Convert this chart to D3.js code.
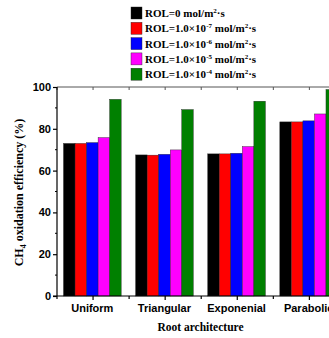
<!DOCTYPE html>
<html>
<head>
<meta charset="utf-8">
<script src="https://cdn.jsdelivr.net/npm/d3@7/dist/d3.min.js"></script>
<style>
  body { margin: 0; background: #fff; }
  svg { display: block; }
</style>
</head>
<body>
<div id="chart"></div>
<script>
var categories = ["Uniform", "Triangular", "Exponenial", "Parabolic"];
var series = ["s0", "s7", "s6", "s5", "s4"];
var seriesColors = ["#000000", "#ff0000", "#0000ff", "#ff00ff", "#008000"];
var seriesExp = [null, "-7", "-6", "-5", "-4"];
var values = [
  [73.0, 73.0, 73.4, 75.8, 94.1],
  [67.5, 67.4, 67.8, 69.9, 89.2],
  [68.0, 68.0, 68.3, 71.5, 93.2],
  [83.3, 83.3, 83.8, 87.1, 98.8]
];
var yTicks = [0, 20, 40, 60, 80, 100];

var width = 329, height = 338;
var margin = {left: 57, top: 87};
var plotW = 287, plotH = 209;

var svg = d3.select("#chart").append("svg")
  .attr("width", width)
  .attr("height", height);

var x = d3.scaleBand()
  .domain(categories)
  .range([margin.left, margin.left + plotW])
  .paddingInner(0.2)
  .paddingOuter(0.09);

var x1 = d3.scaleBand()
  .domain(series)
  .range([0, x.bandwidth()]);

var y = d3.scaleLinear()
  .domain([0, 100])
  .range([margin.top + plotH, margin.top]);

var bottom = margin.top + plotH;

// bars
var groups = svg.append("g").selectAll("g")
  .data(values)
  .enter().append("g")
  .attr("transform", function(d, i) { return "translate(" + x(categories[i]) + ",0)"; });

groups.selectAll("rect")
  .data(function(d) { return d; })
  .enter().append("rect")
  .attr("x", function(d, j) { return x1(series[j]); })
  .attr("y", function(d) { return y(d); })
  .attr("width", x1.bandwidth())
  .attr("height", function(d) { return bottom - y(d); })
  .style("fill", function(d, j) { return seriesColors[j]; })
  .style("stroke", "#222")
  .style("stroke-width", 0.4);

// frame
svg.append("line")
  .attr("x1", margin.left).attr("x2", margin.left + plotW)
  .attr("y1", margin.top).attr("y2", margin.top)
  .style("stroke", "#555").style("stroke-width", 1);

// tick positions for x (centers and boundaries)
var step = x.step();
var xTickPos = [];
for (var k = 0; k <= 8; k++) xTickPos.push(margin.left + k * step / 2);

svg.append("g").selectAll("line")
  .data(xTickPos)
  .enter().append("line")
  .attr("x1", function(d) { return d; }).attr("x2", function(d) { return d; })
  .attr("y1", margin.top).attr("y2", margin.top + 3)
  .style("stroke", "#555").style("stroke-width", 1);

// y axis
var yAxis = d3.axisLeft(y)
  .tickValues(yTicks)
  .tickSize(4)
  .tickFormat(d3.format("d"));

var gy = svg.append("g")
  .attr("transform", "translate(" + margin.left + ",0)")
  .call(yAxis);
gy.select(".domain").attr("d", "M0," + margin.top + "V" + bottom).style("stroke", "#000").style("stroke-width", 1.2);
gy.selectAll(".tick line").style("stroke-width", 1.2);
gy.selectAll("text")
  .style("font-family", "'Liberation Sans', Arial, sans-serif")
  .style("font-size", "11px")
  .style("font-weight", "bold")
  .attr("x", -6);

// minor y ticks
gy.append("g").selectAll("line")
  .data([10, 30, 50, 70, 90])
  .enter().append("line")
  .attr("x1", 0).attr("x2", -2)
  .attr("y1", function(d) { return y(d); }).attr("y2", function(d) { return y(d); })
  .style("stroke", "#000").style("stroke-width", 1);

// x axis
svg.append("line")
  .attr("x1", margin.left - 4).attr("x2", margin.left + plotW)
  .attr("y1", bottom).attr("y2", bottom)
  .style("stroke", "#000").style("stroke-width", 1.2);

svg.append("g").selectAll("line")
  .data(xTickPos)
  .enter().append("line")
  .attr("x1", function(d) { return d; }).attr("x2", function(d) { return d; })
  .attr("y1", bottom).attr("y2", function(d, i) { return bottom + (i % 2 ? 4 : 3); })
  .style("stroke", "#000").style("stroke-width", 1.2);

svg.append("g").selectAll("text")
  .data(categories)
  .enter().append("text")
  .attr("x", function(d) { return x(d) + x.bandwidth() / 2; })
  .attr("y", bottom + 16)
  .attr("text-anchor", "middle")
  .style("font-family", "'Liberation Sans', Arial, sans-serif")
  .style("font-size", "11px")
  .style("font-weight", "bold")
  .text(function(d) { return d; });

// axis titles
svg.append("text")
  .attr("x", margin.left + plotW / 2)
  .attr("y", bottom + 35)
  .attr("text-anchor", "middle")
  .style("font-family", "'Liberation Serif', 'Times New Roman', serif")
  .style("font-size", "11.5px")
  .style("font-weight", "bold")
  .text("Root architecture");

var yt = svg.append("text")
  .attr("transform", "translate(23," + (margin.top + plotH / 2 + 1) + ") rotate(-90)")
  .attr("text-anchor", "middle")
  .style("font-family", "'Liberation Serif', 'Times New Roman', serif")
  .style("font-size", "12px")
  .style("font-weight", "bold");
yt.append("tspan").text("CH");
yt.append("tspan").attr("dy", 3).style("font-size", "8px").text("4");
yt.append("tspan").attr("dy", -3).text(" oxidation efficiency (%)");

// legend
var legend = svg.append("g").attr("transform", "translate(131,7)");
var rows = legend.selectAll("g")
  .data(series)
  .enter().append("g")
  .attr("transform", function(d, i) { return "translate(0," + (i * 15.3) + ")"; });

rows.append("rect")
  .attr("width", 11).attr("height", 12)
  .style("fill", function(d, i) { return seriesColors[i]; })
  .style("stroke", "#222").style("stroke-width", 0.4);

rows.each(function(d, i) {
  var t = d3.select(this).append("text")
    .attr("x", 14).attr("y", 10)
    .style("font-family", "'Liberation Serif', 'Times New Roman', serif")
    .style("font-size", "11px")
    .style("font-weight", "bold");
  if (seriesExp[i] == null) {
    t.append("tspan").text("ROL=0 mol/m");
  } else {
    t.append("tspan").text("ROL=1.0\u00d710");
    t.append("tspan").attr("dy", -4).style("font-size", "7px").text(seriesExp[i]);
    t.append("tspan").attr("dy", 4).text(" mol/m");
  }
  t.append("tspan").attr("dy", -4).style("font-size", "7px").text("2");
  t.append("tspan").attr("dy", 4).text("\u00b7s");
});
</script>
</body>
</html>
